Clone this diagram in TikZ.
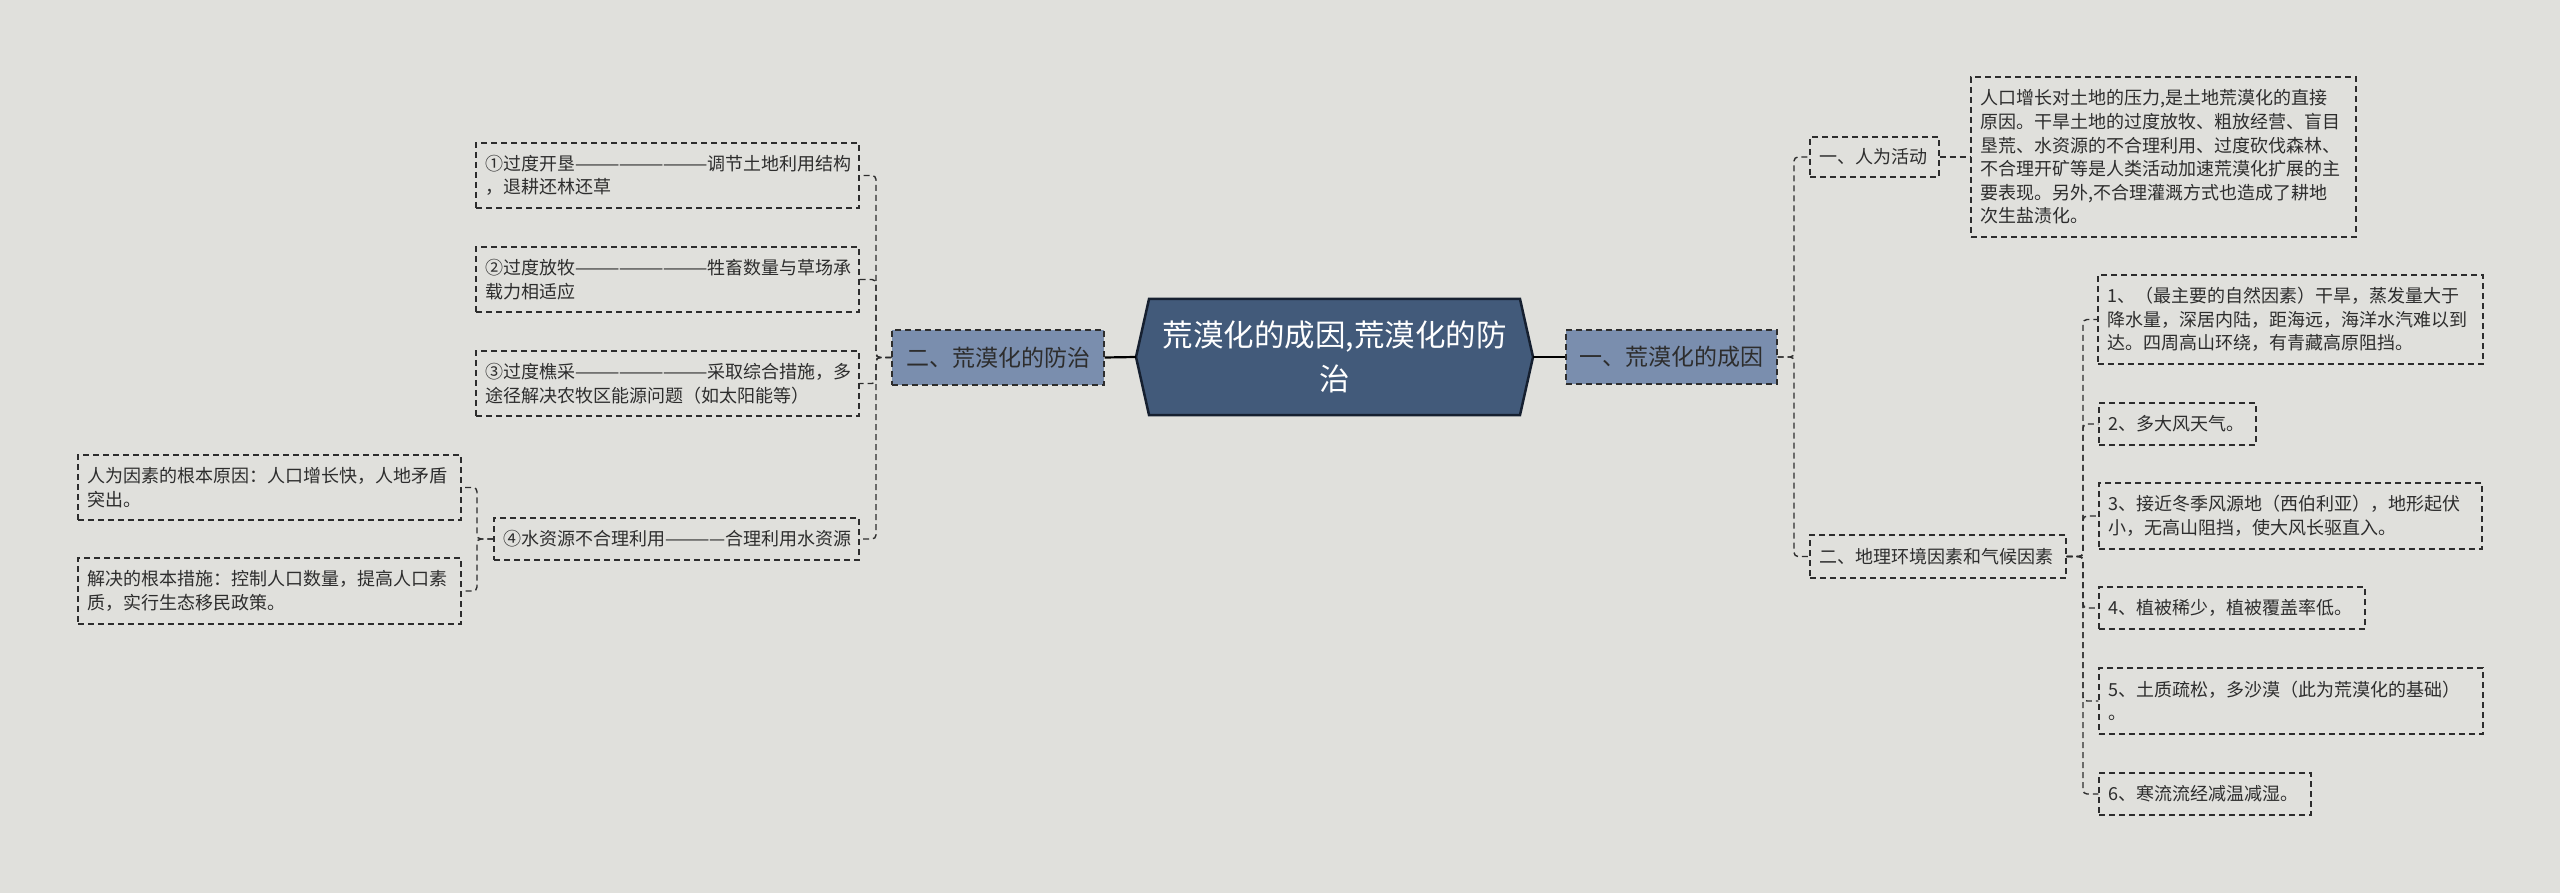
\documentclass[tikz,border=0pt]{standalone}
\usepackage{fontspec}
\setmainfont{Noto Sans CJK SC}
\usetikzlibrary{calc}
\definecolor{bgc}{RGB}{224,224,220}
\definecolor{cfill}{RGB}{66,90,122}
\definecolor{cborder}{RGB}{22,32,48}
\definecolor{mfill}{RGB}{122,142,174}
\definecolor{ink}{RGB}{45,45,45}
\begin{document}
\begin{tikzpicture}[x=1pt,y=-1pt,
  box/.style={draw=ink, dash pattern=on 6pt off 4pt, line width=1.4pt, text=ink, align=left,
    inner xsep=9pt, inner ysep=0pt, font=\fontsize{18}{23.6}\selectfont, anchor=center},
  mainbox/.style={box, fill=mfill, align=center, font=\fontsize{23}{28}\selectfont},
  conn/.style={draw=ink, dash pattern=on 6pt off 4pt, line width=1.4pt, rounded corners=4pt},
  solidconn/.style={draw=black, line width=2.2pt}]
\useasboundingbox (0,0) rectangle (2560,893);
\fill[bgc] (0,0) rectangle (2560,893);
% central hexagon
\fill[cfill, draw=cborder, line width=2.5pt] (1136,357) -- (1149,299) -- (1520,299) -- (1533,357) -- (1520,415) -- (1149,415) -- cycle;
\node[minimum width=397, minimum height=116, inner sep=0pt, text=white, align=center,
  font=\fontsize{30.5}{44}\selectfont] (c) at (1334.5,357) {荒漠化的成因,荒漠化的防\\治};
% main branches
\node[mainbox, minimum width=212, minimum height=55, text width=194] (lm) at (998,357.5) {二、荒漠化的防治};
\node[mainbox, minimum width=211, minimum height=54, text width=193] (rm) at (1671.5,357) {一、荒漠化的成因};
% left children
\node[box, minimum width=383, minimum height=65, text width=365] (L1) at (667.5,175.5) {\mbox{①过度开垦—————————调节土地利用结构}\\，退耕还林还草};
\node[box, minimum width=383, minimum height=65, text width=365] (L2) at (667.5,279.5) {\mbox{②过度放牧—————————牲畜数量与草场承}\\载力相适应};
\node[box, minimum width=383, minimum height=65, text width=365] (L3) at (667.5,383.5) {\mbox{③过度樵采—————————采取综合措施，多}\\途径解决农牧区能源问题（如太阳能等）};
\node[box, minimum width=365, minimum height=42, text width=347] (L4) at (676.5,539) {\mbox{④水资源不合理利用————合理利用水资源}};
\node[box, minimum width=383, minimum height=65, text width=365] (LA) at (269.5,487.5) {人为因素的根本原因：人口增长快，人地矛盾\\突出。};
\node[box, minimum width=383, minimum height=66, text width=365] (LB) at (269.5,591) {解决的根本措施：控制人口数量，提高人口素\\质，实行生态移民政策。};
% right children
\node[box, minimum width=129, minimum height=40, text width=111] (R1) at (1874.5,157) {一、人为活动};
\node[box, minimum width=385, minimum height=160, text width=367] (R1t) at (2163.5,157) {人口增长对土地的压力,是土地荒漠化的直接\\原因。干旱土地的过度放牧、粗放经营、盲目\\垦荒、水资源的不合理利用、过度砍伐森林、\\不合理开矿等是人类活动加速荒漠化扩展的主\\要表现。另外,不合理灌溉方式也造成了耕地\\次生盐渍化。};
\node[box, minimum width=256, minimum height=43, text width=238] (R2) at (1938,556.5) {二、地理环境因素和气候因素};
\node[box, minimum width=385, minimum height=89, text width=367] (S1) at (2290.5,319.5) {1、（最主要的自然因素）干旱，蒸发量大于\\降水量，深居内陆，距海远，海洋水汽难以到\\达。四周高山环绕，有青藏高原阻挡。};
\node[box, minimum width=157, minimum height=42, text width=139] (S2) at (2177.5,424) {2、多大风天气。};
\node[box, minimum width=383, minimum height=66, text width=365] (S3) at (2290.5,516) {3、接近冬季风源地（西伯利亚），地形起伏\\小，无高山阻挡，使大风长驱直入。};
\node[box, minimum width=266, minimum height=42, text width=248] (S4) at (2232,608) {4、植被稀少，植被覆盖率低。};
\node[box, minimum width=384, minimum height=66, text width=366] (S5) at (2291,701) {5、土质疏松，多沙漠（此为荒漠化的基础）\\。};
\node[box, minimum width=212, minimum height=42, text width=194] (S6) at (2205,794) {6、寒流流经减温减湿。};
% bracket points
\coordinate (lb) at (876,357.5);
\coordinate (lb2) at (477,539);
\coordinate (rb) at (1794,357);
\coordinate (sb) at (2083,556.5);
% connectors
\draw[solidconn] (c.west) -- (lm.east);
\draw[solidconn] (c.east) -- (rm.west);
\foreach \t in {L1,L2,L3,L4} \draw[conn] (lm.west) -- (lb) |- (\t.east);
\foreach \t in {LA,LB} \draw[conn] (L4.west) -- (lb2) |- (\t.east);
\foreach \t in {R1,R2} \draw[conn] (rm.east) -- (rb) |- (\t.west);
\draw[conn] (R1.east) -- (R1t.west);
\foreach \t in {S1,S2,S3,S4,S5,S6} \draw[conn] (R2.east) -- (sb) |- (\t.west);
\end{tikzpicture}
\end{document}
